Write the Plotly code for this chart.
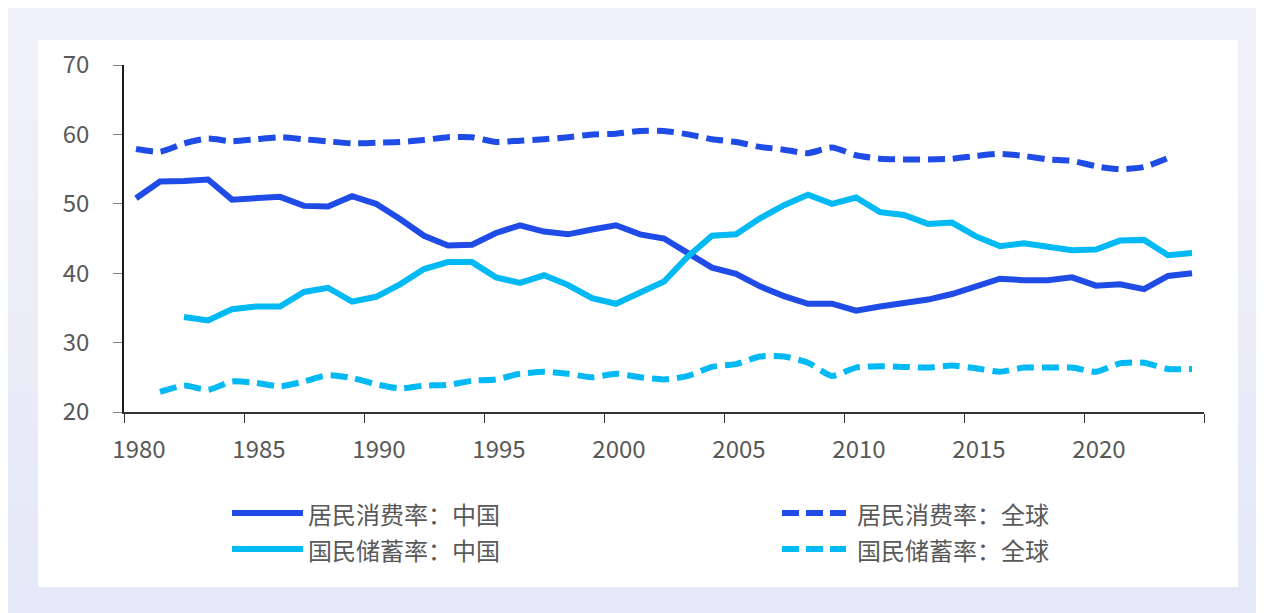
import plotly.graph_objects as go

# ---- data ----
years = list(range(1980, 2025))

consumption_china = [
    50.8, 53.2, 53.3, 53.5, 50.6, 50.8, 51.0, 49.7, 49.6, 51.1,
    50.0, 47.8, 45.4, 44.0, 44.1, 45.8, 46.9, 46.0, 45.6, 46.3,
    46.9, 45.6, 45.0, 42.9, 40.8, 39.9, 38.1, 36.7, 35.6, 35.6,
    34.6, 35.2, 35.7, 36.2, 37.0, 38.2, 39.2, 39.0, 39.0, 39.4,
    38.2, 38.4, 37.7, 39.6, 40.0,
]
consumption_world = [
    57.9, 57.5, 58.7, 59.4, 59.0, 59.3, 59.6, 59.3, 59.0, 58.7,
    58.8, 58.9, 59.2, 59.6, 59.6, 58.9, 59.1, 59.3, 59.6, 60.0,
    60.1, 60.5, 60.5, 60.0, 59.3, 58.9, 58.2, 57.8, 57.3, 58.1,
    57.0, 56.5, 56.4, 56.4, 56.5, 56.9, 57.2, 56.9, 56.4, 56.2,
    55.4, 55.0, 55.3, 56.6, None,
]
savings_china = [
    None, None, 33.7, 33.2, 34.8, 35.2, 35.2, 37.3, 37.9, 35.9,
    36.6, 38.4, 40.6, 41.6, 41.6, 39.4, 38.6, 39.7, 38.3, 36.4,
    35.6, 37.2, 38.8, 42.4, 45.4, 45.6, 47.9, 49.8, 51.3, 50.0,
    50.9, 48.8, 48.4, 47.1, 47.3, 45.3, 43.9, 44.3, 43.7, 43.3,
    43.4, 44.7, 44.8, 42.6, 42.9,
]
savings_world = [
    None, 22.9, 23.8, 23.2, 24.4, 24.2, 23.7, 24.4, 25.3, 24.9,
    24.0, 23.4, 23.8, 23.9, 24.5, 24.7, 25.5, 25.8, 25.5, 25.0,
    25.5, 25.0, 24.7, 25.2, 26.5, 26.9, 28.0, 28.0, 27.1, 25.2,
    26.4, 26.6, 26.5, 26.4, 26.7, 26.3, 25.8, 26.4, 26.4, 26.4,
    25.8, 27.0, 27.1, 26.2, 26.2,
]

x_labels = ["1980", "1985", "1990", "1995", "2000", "2005", "2010", "2015", "2020", ""]

series = [
    ("居民消费率：中国", consumption_china, "#1f4be6", "solid", "linear"),
    ("居民消费率：全球", consumption_world, "#1f4be6", "17px,8px", "spline"),
    ("国民储蓄率：中国", savings_china, "#00b9f5", "solid", "linear"),
    ("国民储蓄率：全球", savings_world, "#00b9f5", "17px,8px", "spline"),
]

FONT = "Noto Sans CJK SC"
GREY = "#595959"
FONT_SIZE = 24

W, H = 1264, 613
OFF = 8  # page margin of the html body
L, R, T, B = 116, 68, 57, 209


def px_x(px):
    # page pixel -> paper fraction
    return (px - OFF - L) / (W - L - R)


def px_y(py):
    return (H - B - (py - OFF)) / (H - T - B)


fig = go.Figure()
for name, values, color, dash, shape in series:
    fig.add_trace(
        go.Scatter(
            x=years,
            y=values,
            name=name,
            mode="lines",
            line=dict(color=color, width=6, dash=dash, shape=shape, smoothing=0.6),
            showlegend=False,
        )
    )

# background: soft lavender gradient + white card
shapes = []
top_rgb, bottom_rgb = (241, 241, 251), (229, 232, 246)
n_bands = 16
for i in range(n_bands):
    t = i / (n_bands - 1)
    rgb = tuple(round(a + (b - a) * t) for a, b in zip(top_rgb, bottom_rgb))
    y_a = OFF + H * i / n_bands
    y_b = OFF + H * (i + 1) / n_bands + 1
    shapes.append(dict(
        type="rect", xref="paper", yref="paper", layer="below",
        x0=px_x(OFF), x1=px_x(OFF + W), y0=px_y(y_b), y1=px_y(y_a),
        fillcolor="rgb(%d,%d,%d)" % rgb, line_width=0,
    ))
shapes.append(dict(
    type="rect", xref="paper", yref="paper", layer="below",
    x0=px_x(38), x1=px_x(1238), y0=px_y(587), y1=px_y(40),
    fillcolor="white", line_width=0,
))

# legend drawn by hand so the symbols match the long samples of the original
legend_slots = [(232, 303, 306, 513), (782, 846, 855, 513),
                (232, 303, 306, 549), (782, 846, 855, 549)]
annotations = []
for (name, _, color, dash, _), (lx0, lx1, tx, ly) in zip(series, legend_slots):
    shapes.append(dict(
        type="line", xref="paper", yref="paper",
        x0=px_x(lx0), x1=px_x(lx1), y0=px_y(ly), y1=px_y(ly),
        line=dict(color=color, width=6, dash="solid" if dash == "solid" else "17px,7px"),
    ))
    annotations.append(dict(
        text=name, xref="paper", yref="paper", x=px_x(tx), y=px_y(ly),
        xanchor="left", yanchor="middle", showarrow=False,
        font=dict(family=FONT, size=FONT_SIZE, color=GREY),
    ))

fig.update_layout(
    width=W,
    height=H,
    margin=dict(l=L, r=R, t=T, b=B, autoexpand=False),
    paper_bgcolor="#eeeff9",
    plot_bgcolor="white",
    font=dict(family=FONT, size=FONT_SIZE, color=GREY),
    shapes=shapes,
    annotations=annotations,
    showlegend=False,
)
fig.update_xaxes(
    range=[1979.5, 2024.5],
    tickvals=[1979.5 + 5 * k for k in range(len(x_labels))],
    ticktext=x_labels,
    ticklabelshift=15,
    ticklabelstandoff=6,
    ticks="outside",
    ticklen=9,
    tickcolor="#333333",
    showline=True,
    linecolor="#333333",
    linewidth=1.5,
    showgrid=False,
    zeroline=False,
    tickfont=dict(family=FONT, size=FONT_SIZE, color=GREY),
)
fig.update_yaxes(
    range=[20, 70],
    dtick=10,
    ticks="outside",
    ticklen=9,
    tickcolor="#808080",
    ticklabelstandoff=19,
    showline=True,
    linecolor="#1a1a1a",
    linewidth=1.5,
    showgrid=False,
    zeroline=False,
    tickfont=dict(family=FONT, size=FONT_SIZE, color=GREY),
)

fig.write_html("out.html")
